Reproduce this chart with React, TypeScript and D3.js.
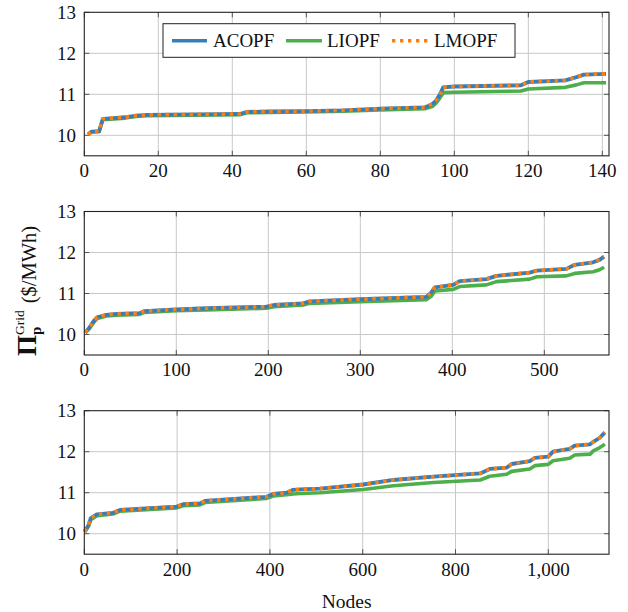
import React from "react";
import * as d3 from "d3";

// ---- Data (node index, price $/MWh) ----
// Panel 1 (141 nodes)
const p1Nodes = [1, 2, 4, 5, 8, 11, 14, 17, 30, 42, 44, 50, 60, 70, 80, 92, 94, 95, 96, 97, 100, 118, 120, 130, 133, 135, 141];
const p1AC = [10.02, 10.09, 10.1, 10.4, 10.42, 10.44, 10.48, 10.5, 10.51, 10.52, 10.57, 10.58, 10.59, 10.61, 10.65, 10.68, 10.76, 10.84, 10.98, 11.17, 11.19, 11.22, 11.3, 11.34, 11.42, 11.48, 11.5];
const p1LI = [10.02, 10.08, 10.09, 10.38, 10.4, 10.42, 10.46, 10.48, 10.49, 10.5, 10.55, 10.56, 10.57, 10.59, 10.62, 10.65, 10.7, 10.78, 10.9, 11.04, 11.05, 11.08, 11.13, 11.17, 11.23, 11.28, 11.28];
const p1LM = [10.02, 10.09, 10.1, 10.4, 10.42, 10.44, 10.48, 10.5, 10.51, 10.52, 10.57, 10.58, 10.59, 10.61, 10.65, 10.68, 10.76, 10.84, 10.98, 11.17, 11.19, 11.22, 11.3, 11.34, 11.42, 11.48, 11.5];

// Panel 2 (~565 nodes)
const p2Nodes = [1, 5, 10, 14, 24, 35, 60, 65, 100, 133, 198, 206, 238, 245, 300, 372, 377, 381, 401, 408, 437, 448, 484, 492, 524, 533, 553, 560, 565];
const p2AC = [10.05, 10.15, 10.32, 10.42, 10.48, 10.5, 10.52, 10.57, 10.61, 10.64, 10.68, 10.72, 10.76, 10.81, 10.86, 10.92, 11.02, 11.15, 11.21, 11.3, 11.35, 11.43, 11.51, 11.56, 11.6, 11.7, 11.76, 11.82, 11.9];
const p2LI = [10.04, 10.13, 10.29, 10.39, 10.45, 10.47, 10.49, 10.54, 10.58, 10.6, 10.64, 10.68, 10.72, 10.76, 10.8, 10.85, 10.93, 11.06, 11.1, 11.17, 11.21, 11.29, 11.35, 11.41, 11.43, 11.49, 11.53, 11.58, 11.64];
const p2LM = [10.05, 10.15, 10.32, 10.42, 10.48, 10.5, 10.52, 10.57, 10.61, 10.64, 10.68, 10.72, 10.76, 10.81, 10.86, 10.92, 11.02, 11.15, 11.21, 11.3, 11.35, 11.43, 11.51, 11.56, 11.6, 11.7, 11.76, 11.82, 11.9];

// Panel 3 (~1124 nodes)
const p3Nodes = [1, 9, 14, 27, 62, 77, 199, 213, 249, 260, 393, 407, 436, 450, 465, 508, 601, 666, 752, 853, 874, 910, 921, 960, 971, 1000, 1010, 1046, 1057, 1090, 1097, 1111, 1122];
const p3AC = [10.05, 10.21, 10.38, 10.47, 10.51, 10.58, 10.66, 10.72, 10.74, 10.8, 10.9, 10.97, 11.0, 11.07, 11.08, 11.1, 11.2, 11.31, 11.39, 11.47, 11.58, 11.61, 11.7, 11.77, 11.85, 11.88, 12.0, 12.07, 12.15, 12.18, 12.24, 12.34, 12.47];
const p3LI = [10.04, 10.18, 10.34, 10.44, 10.48, 10.55, 10.63, 10.68, 10.7, 10.76, 10.86, 10.92, 10.95, 10.97, 10.98, 11.0, 11.08, 11.17, 11.25, 11.31, 11.4, 11.45, 11.52, 11.58, 11.66, 11.69, 11.78, 11.84, 11.92, 11.94, 12.02, 12.1, 12.18];
const p3LM = [10.05, 10.21, 10.38, 10.47, 10.51, 10.58, 10.66, 10.72, 10.74, 10.8, 10.9, 10.97, 11.0, 11.07, 11.08, 11.1, 11.2, 11.31, 11.39, 11.47, 11.58, 11.61, 11.7, 11.77, 11.85, 11.88, 12.0, 12.07, 12.15, 12.18, 12.24, 12.34, 12.47];

const p1XTicks = [0, 20, 40, 60, 80, 100, 120, 140];
const p2XTicks = [0, 100, 200, 300, 400, 500];
const p3XTicks = [0, 200, 400, 600, 800, 1000];
const yTicks = [10, 11, 12, 13];
const seriesNames = ["ACOPF", "LIOPF", "LMOPF"];

const yDomain: [number, number] = [9.5, 13];
const colors = { ac: "#377eb8", li: "#4daf4a", lm: "#ff7f0e" };
const FONT = "Liberation Serif, DejaVu Serif, serif";

const LEFT = 84.3;
const RIGHT = 609;

type Panel = {
  top: number;
  bottom: number;
  xMax: number;
  xTicks: number[];
  nodes: number[];
  ac: number[];
  li: number[];
  lm: number[];
};

const panels: Panel[] = [
  { top: 12.3, bottom: 155.8, xMax: 141.8, xTicks: p1XTicks, nodes: p1Nodes, ac: p1AC, li: p1LI, lm: p1LM },
  { top: 211.5, bottom: 355, xMax: 570.3, xTicks: p2XTicks, nodes: p2Nodes, ac: p2AC, li: p2LI, lm: p2LM },
  { top: 410.7, bottom: 554.2, xMax: 1130.8, xTicks: p3XTicks, nodes: p3Nodes, ac: p3AC, li: p3LI, lm: p3LM },
];

const fmt = d3.format(",");
const textStyle = { fontFamily: FONT };

function PanelView({ p }: { p: Panel }) {
  const x = d3.scaleLinear().domain([0, p.xMax]).range([LEFT, RIGHT]);
  const y = d3.scaleLinear().domain(yDomain).range([p.bottom, p.top]);
  const line = d3
    .line<number>()
    .x((_, i) => x(p.nodes[i]))
    .y((d) => y(d));
  const tl = 5;
  return (
    <g>
      {p.xTicks.filter((t) => t > 0).map((t) => (
        <line key={"gx" + t} x1={x(t)} x2={x(t)} y1={p.top} y2={p.bottom} stroke="#c8c8c8" strokeWidth={1} />
      ))}
      {yTicks.filter((t) => t < 13).map((t) => (
        <line key={"gy" + t} x1={LEFT} x2={RIGHT} y1={y(t)} y2={y(t)} stroke="#c8c8c8" strokeWidth={1} />
      ))}
      {p.xTicks.map((t) => (
        <g key={"tx" + t}>
          <line x1={x(t)} x2={x(t)} y1={p.bottom} y2={p.bottom - tl} stroke="#555" strokeWidth={1} />
          <line x1={x(t)} x2={x(t)} y1={p.top} y2={p.top + tl} stroke="#555" strokeWidth={1} />
        </g>
      ))}
      {yTicks.map((t) => (
        <g key={"ty" + t}>
          <line x1={LEFT} x2={LEFT + tl} y1={y(t)} y2={y(t)} stroke="#555" strokeWidth={1} />
          <line x1={RIGHT} x2={RIGHT - tl} y1={y(t)} y2={y(t)} stroke="#555" strokeWidth={1} />
        </g>
      ))}
      <path d={line(p.li) || ""} fill="none" stroke={colors.li} strokeWidth={3.6} strokeLinejoin="round" />
      <path d={line(p.ac) || ""} fill="none" stroke={colors.ac} strokeWidth={3.8} strokeLinejoin="round" />
      <path d={line(p.lm) || ""} fill="none" stroke={colors.lm} strokeWidth={3.6} strokeDasharray="3.4 4.6" />
      <rect x={LEFT} y={p.top} width={RIGHT - LEFT} height={p.bottom - p.top} fill="none" stroke="#222" strokeWidth={1.1} />
      {p.xTicks.map((t) => (
        <text key={"lx" + t} x={x(t)} y={p.bottom + 8} dy="0.71em" textAnchor="middle" fontSize={19} style={textStyle} fill="#111">
          {fmt(t)}
        </text>
      ))}
      {yTicks.map((t) => (
        <text key={"ly" + t} x={76} y={y(t)} dy="0.33em" textAnchor="end" fontSize={19} style={textStyle} fill="#111">
          {t}
        </text>
      ))}
    </g>
  );
}

export default function App() {
  const legendY = 40.7;
  const legendItems = [
    { name: seriesNames[0], x1: 172, x2: 207, tx: 213, color: colors.ac, dash: undefined as string | undefined },
    { name: seriesNames[1], x1: 286, x2: 322, tx: 327, color: colors.li, dash: undefined },
    { name: seriesNames[2], x1: 392, x2: 428, tx: 434, color: colors.lm, dash: "3.4 4.6" },
  ];
  return (
    <svg width={628} height={612} style={{ position: "absolute", left: 0, top: 0, background: "#fff" }}>
      <rect x={0} y={0} width={628} height={612} fill="#fff" />
      {panels.map((p, i) => (
        <PanelView key={i} p={p} />
      ))}
      <rect x={163} y={23.7} width={352} height={33.6} fill="#fff" stroke="#222" strokeWidth={1} />
      {legendItems.map((it) => (
        <g key={it.name}>
          <line x1={it.x1} x2={it.x2} y1={legendY} y2={legendY} stroke={it.color} strokeWidth={3.6} strokeDasharray={it.dash} />
          <text x={it.tx} y={legendY} dy="0.35em" fontSize={19} style={textStyle} fill="#111">
            {it.name}
          </text>
        </g>
      ))}
      <text transform="translate(36,356) rotate(-90)" style={textStyle} fill="#111">
        <tspan fontSize={27} fontWeight="bold">Π</tspan>
        <tspan fontSize={15} fontWeight="bold" dy={5}>p</tspan>
        <tspan fontSize={13.5} dx={-8.4} dy={-17}>Grid</tspan>
        <tspan fontSize={20.5} dx={7} dy={12}>($/MWh)</tspan>
      </text>
      <text x={(LEFT + RIGHT) / 2} y={601.5} dy="0.35em" textAnchor="middle" fontSize={19.5} style={textStyle} fill="#111">
        Nodes
      </text>
    </svg>
  );
}
